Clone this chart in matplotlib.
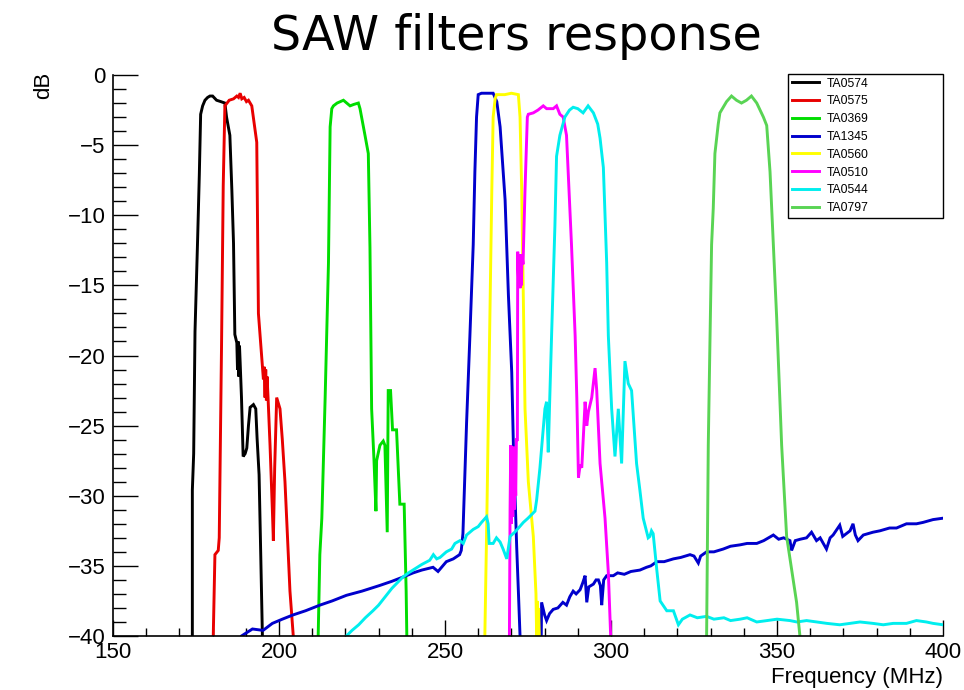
import matplotlib
matplotlib.use("Agg")
import matplotlib.pyplot as plt
from matplotlib.ticker import MultipleLocator

# ---------------- data (MHz, dB) ----------------
ta0574_f = [173.0, 173.9, 173.9, 174.3, 174.7, 175.5, 176.0, 176.4, 177.0, 177.7, 178.5, 179.2, 180.0,
            181.2, 182.5, 183.7, 184.2, 185.2, 185.8, 186.3, 186.7, 187.3, 187.5, 187.7, 187.9, 188.1,
            188.3, 188.7, 189.2, 189.8, 190.3, 190.8, 191.3, 192.3, 193.0, 193.4, 194.0, 194.5, 195.0, 195.3]
ta0574_db = [-45, -40, -29.6, -27.0, -18.3, -11.6, -7.1, -2.8, -2.2, -1.8, -1.6, -1.5, -1.5,
             -1.8, -1.9, -2.0, -3.0, -4.3, -8.2, -12.0, -18.5, -19.1, -21.0, -19.0, -21.5, -19.3,
             -20.5, -23.0, -27.2, -27.0, -26.6, -25.0, -23.7, -23.5, -23.8, -25.9, -28.5, -34.2, -40.0, -45]

ta0575_f = [180.0, 180.2, 180.7, 181.7, 182.0, 182.7, 183.2, 183.7, 185.0, 186.3, 187.3, 187.8, 188.3,
            188.8, 189.5, 190.2, 190.8, 191.8, 193.3, 193.8, 195.3, 195.5, 195.8, 196.0, 196.2, 196.4,
            196.7, 197.3, 198.0, 198.3, 198.7, 199.3, 200.3, 201.0, 201.8, 203.3, 204.3, 204.6]
ta0575_db = [-45, -40, -34.2, -33.9, -33.0, -19.1, -7.9, -2.2, -1.8, -1.7, -1.5, -1.6, -1.3,
             -1.7, -1.6, -1.9, -1.8, -2.2, -4.8, -17.0, -21.7, -20.8, -23.0, -21.0, -23.2, -21.5,
             -23.0, -26.4, -31.0, -33.2, -28.0, -23.0, -23.8, -26.0, -29.0, -36.8, -40.0, -45]

ta0369_f = [211.6, 211.8, 212.3, 212.9, 213.9, 214.9, 215.4, 215.9, 216.4, 217.5, 219.4, 220.4, 221.4,
            222.5, 223.9, 224.4, 225.9, 226.9, 227.4, 227.9, 228.6, 229.2, 229.4, 230.4, 231.4, 231.9,
            232.6, 232.9, 233.6, 234.2, 235.4, 236.4, 237.7, 238.3, 238.5, 238.7]
ta0369_db = [-45, -40, -34.2, -31.6, -23.0, -13.4, -3.7, -2.4, -2.2, -2.0, -1.8, -2.0, -2.2,
             -2.1, -2.0, -2.4, -4.3, -5.6, -12.3, -23.8, -27.4, -31.1, -27.5, -26.4, -26.1, -26.4,
             -32.6, -22.5, -22.5, -25.3, -25.3, -30.6, -30.6, -36.8, -40.0, -45]

ta1345_f = [188.0, 188.7, 190.0, 192.0, 195.2, 198.0, 201.0, 204.2, 208.0, 212.3, 216.0, 220.3, 225.0,
            230.3, 234.0, 237.3, 240.4, 243.0, 246.4, 247.9, 250.4, 252.5, 254.4, 254.9, 255.4, 255.9,
            256.5, 257.5, 258.5, 259.0, 259.5, 260.0, 261.0, 262.5, 264.5, 265.6, 266.6, 268.1, 269.1,
            270.1, 270.6, 271.6, 272.1, 272.6, 275.0, 278.8, 279.1, 280.0, 280.6, 281.5, 282.6, 284.0,
            285.5, 286.6, 287.6, 288.6, 289.5, 290.7, 291.5, 292.2, 292.7, 293.3, 294.7, 295.5, 296.2,
            296.8, 297.2, 297.8, 298.7, 300.7, 302.0, 304.0, 306.0, 308.7, 310.7, 312.0, 313.8, 316.0,
            318.8, 321.0, 323.8, 325.0, 326.3, 327.0, 328.8, 331.0, 333.8, 336.0, 338.9, 341.0, 343.9,
            346.0, 348.9, 350.5, 352.0, 353.9, 354.4, 355.5, 357.0, 358.9, 360.4, 361.9, 363.0, 364.9,
            366.0, 366.9, 368.9, 369.8, 370.9, 372.0, 372.9, 373.6, 374.4, 376.0, 378.9, 381.0, 383.9,
            386.0, 389.0, 392.0, 394.0, 397.0, 400.0]
ta1345_db = [-40.6, -40.0, -39.8, -39.5, -39.6, -39.1, -38.8, -38.5, -38.2, -37.8, -37.5, -37.1, -36.8,
             -36.4, -36.1, -35.8, -35.5, -35.3, -35.1, -35.4, -34.7, -34.5, -34.2, -33.9, -32.7, -29.1,
             -24.8, -18.6, -12.1, -6.9, -3.0, -1.4, -1.3, -1.3, -1.3, -1.9, -3.7, -8.9, -15.7,
             -21.2, -26.4, -33.7, -36.8, -40.0, -44.0, -44.0, -37.6, -38.5, -38.9, -38.4, -38.1, -38.0,
             -37.6, -37.8, -37.2, -36.8, -37.0, -36.7, -36.2, -35.7, -37.6, -36.5, -36.3, -36.0, -36.0,
             -36.4, -37.8, -36.0, -35.7, -35.7, -35.5, -35.6, -35.4, -35.3, -35.1, -35.0, -34.7, -34.7,
             -34.5, -34.4, -34.2, -34.3, -34.8, -34.3, -34.0, -34.0, -33.8, -33.6, -33.5, -33.4, -33.4,
             -33.2, -32.8, -33.1, -33.0, -33.2, -33.9, -33.2, -33.1, -33.0, -32.6, -33.2, -33.0, -33.8,
             -33.0, -32.8, -32.1, -32.9, -32.7, -32.5, -32.0, -32.8, -33.2, -32.8, -32.6, -32.5, -32.3,
             -32.3, -32.0, -32.0, -31.9, -31.7, -31.6]

ta0560_f = [261.8, 262.0, 262.6, 263.1, 263.6, 264.1, 264.5, 265.1, 265.5, 268.0, 270.0, 272.1, 272.6,
            273.1, 273.6, 274.1, 275.1, 276.6, 277.4, 277.6, 277.8, 278.0, 278.2, 278.4, 278.5]
ta0560_db = [-45, -40, -31.6, -23.8, -16.0, -8.2, -3.0, -1.7, -1.4, -1.4, -1.3, -1.4, -3.0,
             -8.2, -16.0, -23.8, -29.0, -32.9, -37.0, -40.0, -37.5, -40.0, -38.0, -40.0, -45]

ta0510_f = [269.2, 269.4, 269.6, 269.8, 270.0, 270.2, 270.4, 270.6, 270.8, 271.0, 271.3, 271.5, 271.8,
            271.9, 272.2, 272.4, 272.6, 272.8, 273.0, 273.2, 273.5, 274.1, 274.8, 275.1, 276.6, 278.0,
            279.6, 280.6, 282.6, 283.6, 284.6, 285.6, 286.6, 288.1, 289.2, 289.7, 290.2, 290.7, 291.2,
            292.2, 292.7, 293.2, 294.2, 295.2, 295.7, 296.7, 298.2, 299.2, 299.9, 300.1]
ta0510_db = [-45, -40, -31.0, -26.4, -32.0, -27.0, -31.5, -26.5, -31.0, -27.0, -30.0, -26.0, -26.0,
             -12.6, -15.0, -12.8, -15.2, -13.0, -15.0, -12.8, -13.5, -8.2, -3.0, -2.8, -2.7, -2.5,
             -2.2, -2.4, -2.4, -2.2, -2.8, -3.0, -4.3, -12.1, -18.6, -23.0, -28.7, -27.8, -28.0,
             -23.3, -25.0, -24.0, -23.0, -20.9, -22.5, -27.7, -31.6, -35.5, -40.0, -45]

ta0544_f = [219.8, 220.3, 222.0, 224.0, 226.0, 228.3, 230.0, 232.0, 234.0, 237.3, 239.0, 241.0, 243.0,
            245.4, 246.5, 247.5, 248.5, 250.4, 252.0, 253.0, 254.5, 255.5, 256.5, 258.5, 260.0, 261.0,
            262.5, 263.0, 263.3, 264.5, 265.5, 266.6, 267.5, 268.6, 269.6, 271.0, 272.5, 273.6, 275.0,
            277.1, 277.6, 278.6, 280.1, 280.6, 281.1, 281.5, 282.1, 283.1, 283.6, 284.6, 286.1, 287.5,
            288.6, 290.0, 291.6, 293.1, 294.7, 296.0, 296.7, 297.7, 298.7, 299.2, 300.2, 301.2, 302.2,
            303.2, 304.2, 305.2, 306.2, 307.7, 308.7, 309.7, 311.2, 311.7, 312.2, 312.7, 313.8, 314.8,
            316.8, 318.8, 320.3, 321.5, 323.8, 326.0, 328.8, 331.0, 334.0, 336.0, 338.9, 341.0, 343.9,
            347.0, 350.0, 353.9, 356.0, 358.9, 362.0, 365.0, 368.9, 372.0, 375.0, 378.9, 382.0, 385.0,
            389.0, 392.0, 395.0, 397.0, 400.0]
ta0544_db = [-40.5, -40.0, -39.6, -39.2, -38.7, -38.2, -37.8, -37.2, -36.6, -35.8, -35.5, -35.2, -34.9,
             -34.6, -34.2, -34.5, -34.4, -34.0, -33.8, -33.4, -33.2, -33.4, -32.8, -32.4, -32.2, -31.9,
             -31.5, -32.0, -33.4, -33.4, -33.0, -33.3, -33.8, -34.5, -32.9, -32.6, -32.2, -31.9, -31.6,
             -31.1, -30.3, -28.0, -23.8, -23.3, -26.9, -23.5, -18.6, -10.8, -5.8, -4.3, -3.0, -2.5,
             -2.3, -2.4, -2.7, -2.2, -2.7, -3.5, -4.5, -6.6, -13.4, -18.6, -23.8, -27.2, -23.8,
             -27.7, -20.4, -22.0, -22.5, -27.7, -29.6, -31.6, -33.0, -32.9, -32.5, -32.7, -35.3, -37.5,
             -38.2, -38.2, -39.2, -38.8, -38.5, -38.7, -38.6, -38.8, -38.7, -38.9, -38.8, -38.7, -39.0,
             -38.9, -38.8, -38.9, -39.0, -38.9, -39.0, -39.1, -39.2, -39.1, -39.0, -39.1, -39.2, -39.1,
             -39.1, -38.9, -39.0, -39.1, -39.2]

ta0797_f = [328.6, 328.8, 329.3, 329.8, 330.3, 330.8, 331.3, 332.3, 332.8, 334.8, 336.3, 337.8, 339.3,
            340.8, 342.3, 343.9, 345.9, 346.9, 347.9, 348.9, 349.9, 351.4, 352.9, 355.9, 356.9, 357.1]
ta0797_db = [-45, -40, -26.4, -19.1, -12.1, -9.5, -5.6, -3.5, -2.7, -1.9, -1.5, -1.8, -2.0,
             -1.8, -1.5, -2.0, -3.0, -3.6, -6.9, -12.1, -17.3, -26.4, -32.9, -37.6, -40.0, -45]

series_names = ["TA0574", "TA0575", "TA0369", "TA1345", "TA0560", "TA0510", "TA0544", "TA0797"]
series_f = [ta0574_f, ta0575_f, ta0369_f, ta1345_f, ta0560_f, ta0510_f, ta0544_f, ta0797_f]
series_db = [ta0574_db, ta0575_db, ta0369_db, ta1345_db, ta0560_db, ta0510_db, ta0544_db, ta0797_db]
series_colors = ["#000000", "#e80000", "#00dd00", "#0000cc", "#ffff00", "#ff00ff", "#00eeee", "#59d454"]

x_ticks = [150, 200, 250, 300, 350, 400]
y_ticks = [0, -5, -10, -15, -20, -25, -30, -35, -40]

# ---------------- figure ----------------
W, H = 964, 690
fig = plt.figure(figsize=(W / 100, H / 100), dpi=100)
L, R, T, B = 113, 943, 75, 636
ax = fig.add_axes([L / W, 1 - B / H, (R - L) / W, (B - T) / H])

for name, f, db, c in zip(series_names, series_f, series_db, series_colors):
    ax.plot(f, db, color=c, lw=2.1, label=name, solid_joinstyle="miter")

ax.set_xlim(150, 400)
ax.set_ylim(-40, 0)
ax.set_xticks(x_ticks)
ax.set_yticks(y_ticks)
ax.xaxis.set_minor_locator(MultipleLocator(10))
ax.yaxis.set_minor_locator(MultipleLocator(1))

for s in ("top", "right"):
    ax.spines[s].set_visible(False)
for s in ("left", "bottom"):
    ax.spines[s].set_linewidth(1.2)

tfont = "Liberation Sans"
ax.tick_params(axis="y", which="major", direction="in", length=18, width=1.0, pad=5.5,
               labelsize=16)
ax.tick_params(axis="y", which="minor", direction="in", length=9.5, width=1.0)
ax.tick_params(axis="x", which="major", direction="in", length=11.5, width=1.0, pad=4.5,
               labelsize=16)
ax.tick_params(axis="x", which="minor", direction="in", length=6, width=1.0)
for lab in ax.get_xticklabels() + ax.get_yticklabels():
    lab.set_fontfamily(tfont)

ax.set_xlabel("Frequency (MHz)", fontsize=16, fontfamily=tfont, ha="right", va="center")
ax.xaxis.set_label_coords(1.0, (B - 677) / (B - T))
ax.set_ylabel("dB", fontsize=16, fontfamily=tfont, ha="right", va="center")
ax.yaxis.set_label_coords((44 - L) / (R - L), (B - 72) / (B - T))

fig.text(516 / W, 1 - 50 / H, "SAW filters response", fontsize=34.3, fontfamily="DejaVu Sans",
         ha="center", va="baseline")

lx0, lx1, ly0, ly1 = 788, 943, 74, 215
leg = ax.legend(loc="upper left",
                bbox_to_anchor=((lx0 - L) / (R - L), (B - ly1) / (B - T),
                                (lx1 - lx0) / (R - L), (ly1 - ly0) / (B - T)),
                mode="expand",
                prop={"family": tfont, "size": 8.7}, frameon=True, fancybox=False,
                edgecolor="black", framealpha=1.0, handlelength=2.24, handletextpad=0.66,
                labelspacing=0.48, borderpad=0.29, borderaxespad=0.0)
leg.get_frame().set_linewidth(1.0)
leg.set_zorder(10)

fig.savefig("out.png", dpi=100)
